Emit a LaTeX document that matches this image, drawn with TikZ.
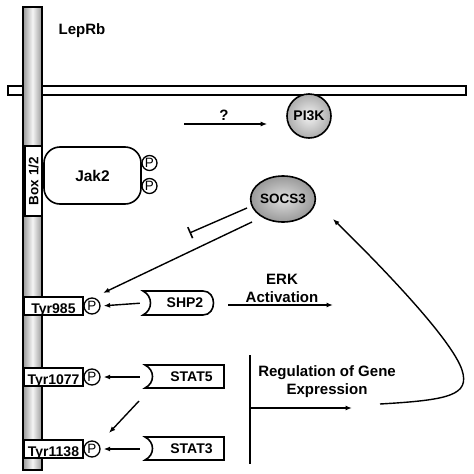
\documentclass[tikz,border=0pt]{standalone}
\usepackage{fontspec}
\setmainfont{Liberation Sans}
\usetikzlibrary{shapes.geometric,arrows.meta,calc}
\begin{document}
\begin{tikzpicture}[x=1pt,y=-1pt,
  every node/.style={inner sep=0pt},
  lw/.style={line width=1.6pt},
  arr/.style={line width=1.4pt,-{Latex[length=6.5pt,width=5pt]}},
  inhib/.style={line width=1.4pt,-{Bar[width=12pt,line width=1.6pt]}},
  lbl/.style={font=\fontsize{15}{18}\selectfont\bfseries,align=center},
  phos/.style={circle,draw,line width=1.3pt,fill=white,minimum size=16pt,font=\fontsize{13.5}{13.5}\selectfont},
  tyr/.style={draw,lw,fill=white,minimum width=59pt,minimum height=18pt,text height=15pt,text depth=0pt,inner ysep=1.5pt,font=\fontsize{14}{14}\selectfont\bfseries},
  prot/.style={minimum width=70pt,minimum height=24pt,font=\fontsize{14}{14}\selectfont\bfseries},
  shade1/.style={shading=radial,inner color=gray!10,outer color=gray!65},
  shade2/.style={shading=radial,inner color=gray!25,outer color=gray!80}
]
\useasboundingbox (0,0) rectangle (474,474);

% membrane
\draw[lw,fill=white] (8,86) rectangle (466,95);
% receptor bar
\draw[lw,left color=gray!80,right color=gray!80,middle color=gray!8] (23,7) rectangle (42,470);

\node[lbl] (leprb) at (82,31) {LepRb};

% Box 1/2
\node[draw,lw,fill=white,rotate=90,minimum width=70pt,minimum height=17pt,font=\fontsize{13.5}{13.5}\selectfont\bfseries] (box) at (33.5,181) {Box 1/2};

% Jak2
\node[draw,lw,fill=white,rounded corners=16pt,minimum width=97pt,minimum height=57pt,font=\fontsize{15.5}{15.5}\selectfont\bfseries] (jak2) at (92.5,175.5) {Jak2};
\node[phos,minimum size=15pt] (jp1) at (149.5,163) {P};
\node[phos,minimum size=15pt] (jp2) at (149.5,186) {P};

% PI3K
\node[circle,draw,lw,shade1,minimum size=44pt,font=\fontsize{14}{14}\selectfont\bfseries] (pi3k) at (309,116) {PI3K};
\coordinate (q1) at (184,124);
\draw[arr,shorten >=19pt] (q1) -- (q1 -| pi3k.west);
\node[lbl] (qm) at (224,115) {?};

% SOCS3
\node[ellipse,draw,lw,shade2,minimum width=64pt,minimum height=46pt,font=\fontsize{13.5}{13.5}\selectfont\bfseries] (socs3) at (283,199) {SOCS3};
\coordinate (s1) at (247,208);
\coordinate (inhEnd) at (189.5,233);
\draw[inhib] (s1) -- (inhEnd);

% Tyr boxes
\node[tyr] (t985) at (53.5,306) {Tyr985};
\node[tyr] (t1077) at (53.5,377) {Tyr1077};
\node[tyr] (t1138) at (53.5,449) {Tyr1138};
\node[phos] (p985) at (92,306) {P};
\node[phos] (p1077) at (92,377) {P};
\node[phos] (p1138) at (92,449) {P};

% SOCS3 -> Tyr985 P
\coordinate (s2) at (252,222);
\coordinate (a985) at (103,293);
\draw[arr] (s2) -- (a985);

% SHP2
\draw[lw,fill=white] (143,291) -- (203,291) .. controls (217,291) and (217,315) .. (203,315) -- (143,315) .. controls (153,310) and (153,296) .. (143,291) -- cycle;
\node[prot] (shp2) at (178,303) {\hspace*{14pt}SHP2};
% STAT5
\draw[lw,fill=white] (145,365) -- (224,365) -- (224,388) -- (145,388) .. controls (155,383) and (155,370) .. (145,365) -- cycle;
\node[prot,minimum width=79pt] (stat5) at (184.5,376.5) {\hspace*{14pt}STAT5};
% STAT3
\draw[lw,fill=white] (145,437) -- (224,437) -- (224,460) -- (145,460) .. controls (155,455) and (155,442) .. (145,437) -- cycle;
\node[prot,minimum width=79pt] (stat3) at (184.5,448.5) {\hspace*{14pt}STAT3};

\draw[arr,shorten <=3pt,shorten >=3pt] (shp2.west) -- (p985.east);
\draw[arr,shorten <=5pt,shorten >=3pt] (stat5.west |- p1077) -- (p1077.east);
\draw[arr,shorten <=5pt,shorten >=3pt] (stat3.west |- p1138) -- (p1138.east);

% STAT5 -> STAT3 diagonal
\coordinate (d1) at (139,401);
\coordinate (d2) at (109,433);
\draw[arr] (d1) -- (d2);

% ERK activation
\coordinate (erkL) at (228,305);
\coordinate (erkR) at (333,305);
\draw[arr] (erkL) -- (erkR);
\node[lbl] (erk) at (282,288) {ERK\\Activation};

% Regulation of gene expression
\coordinate (vT) at (250,355);
\coordinate (vB) at (250,464);
\draw[lw] (vT) -- (vB);
\coordinate (rL) at (250,408);
\coordinate (rR) at (352,408);
\draw[arr] (rL) -- (rR);
\node[lbl] (reg) at (327,382) {Regulation of Gene\\Expression};

% feedback curve
\coordinate (fb) at (380,404);
\draw[arr] (fb) .. controls (450,400) and (470,395) .. (462,370) .. controls (452,340) and (385,270) .. (333,219);
\end{tikzpicture}
\end{document}
